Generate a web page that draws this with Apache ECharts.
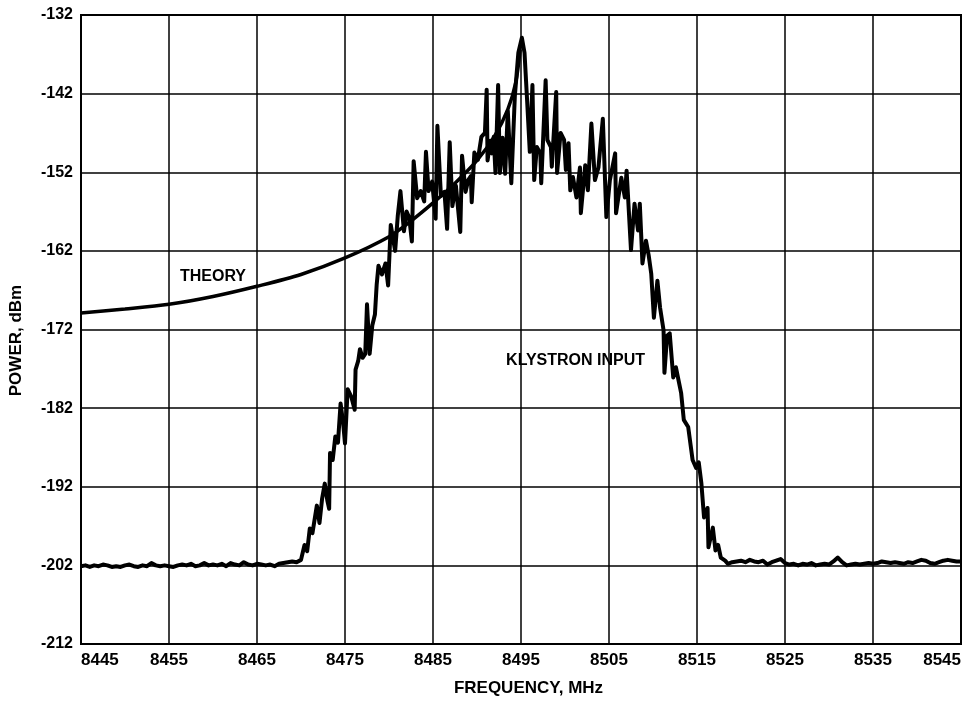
<!DOCTYPE html>
<html>
<head>
<meta charset="utf-8">
<script src="https://cdn.jsdelivr.net/npm/echarts/dist/echarts.min.js"></script>
<style>html,body{margin:0;padding:0;background:#fff;}#chart{width:971px;height:702px;}</style>
</head>
<body>
<div id="chart"></div>
<script>
// ---- axis settings (values) ----
const xTicks = [8445, 8455, 8465, 8475, 8485, 8495, 8505, 8515, 8525, 8535, 8545];
const yTicks = [-212, -202, -192, -182, -172, -162, -152, -142, -132];

// ---- THEORY curve [MHz, dBm] ----
const theoryCurve = [
  [8445,-169.9],[8450,-169.4],[8455,-168.8],[8460,-167.8],[8465,-166.5],
  [8470,-165.0],[8475,-162.9],[8480,-160.2],[8482.5,-158.2],
  [8485,-155.9],[8487.5,-153.4],[8490,-150.5],[8492,-147.4],[8493.5,-144.0],[8494.4,-140.6],
  [8494.9,-136.4]
];

// ---- KLYSTRON INPUT spectrum [MHz, dBm] ----
const klystronLeftFloor = [
  [8445,-202.1],[8445.5,-202.0],[8446,-202.2],[8446.5,-202.0],[8447,-202.1],[8447.5,-201.9],[8448,-202.0],[8448.5,-202.2],[8449,-202.1],[8449.5,-202.2],
  [8450,-202.0],[8450.5,-201.9],[8451,-202.1],[8451.5,-202.2],[8452,-202.0],[8452.5,-202.1],[8453,-201.7],[8453.5,-202.0],[8454,-202.1],[8454.5,-202.0],
  [8455,-202.1],[8455.5,-202.2],[8456,-202.0],[8456.5,-201.9],[8457,-202.0],[8457.5,-201.8],[8458,-202.1],[8458.5,-202.0],[8459,-201.7],[8459.5,-202.0],
  [8460,-201.9],[8460.5,-202.0],[8461,-201.8],[8461.5,-202.1],[8462,-201.7],[8462.5,-201.9],[8463,-202.0],[8463.5,-201.6],[8464,-201.9],[8464.5,-202.0],
  [8465,-201.8],[8465.5,-201.9],[8466,-202.0],[8466.5,-201.9],[8467,-202.1],[8467.5,-201.8],[8468,-201.7],[8468.5,-201.6],[8469,-201.5],[8469.5,-201.6]
];
const klystronRise = [
  [8470.0,-201.3],[8470.4,-199.4],[8470.7,-200.2],[8471.0,-197.3],[8471.3,-197.9],[8471.8,-194.4],[8472.1,-196.6],[8472.4,-193.5],
  [8472.7,-191.6],[8473.0,-193.8],[8473.2,-194.8],[8473.3,-187.7],[8473.6,-188.6],[8473.9,-185.6],[8474.2,-186.4],[8474.5,-181.4],
  [8474.8,-184.0],[8475.0,-186.5],[8475.3,-179.6],[8475.7,-180.5],[8476.1,-182.2],[8476.2,-177.1],[8476.5,-176.0],[8476.7,-174.5],
  [8477.0,-175.6],[8477.3,-175.1],[8477.5,-168.8],[8477.8,-175.1],[8478.1,-171.5],[8478.4,-170.1],[8478.6,-166.3],[8478.8,-163.9],
  [8479.2,-165.0],[8479.6,-163.6],[8479.9,-166.4],[8480.2,-158.7],[8480.7,-162.0],[8481.0,-157.5],[8481.3,-154.4],[8481.7,-159.5],
  [8482.0,-157.0],[8482.3,-157.8],[8482.6,-160.8],[8482.8,-150.6],[8483.2,-155.3],[8483.6,-154.4],[8484.0,-155.7],[8484.2,-149.4],
  [8484.5,-154.4],[8484.9,-153.2],[8485.3,-157.9],[8485.5,-146.1],[8485.9,-155.0],[8486.3,-154.5],[8486.6,-159.2],[8486.9,-148.2],
  [8487.2,-156.3],[8487.6,-153.7],[8488.1,-159.6],[8488.3,-149.9],[8488.7,-154.5],[8489.0,-153.0],[8489.3,-152.5],[8489.4,-155.8],
  [8489.7,-149.5],[8490.1,-150.4],[8490.5,-147.5],[8490.9,-147.0],[8491.1,-141.5],[8491.2,-150.5],[8491.5,-148.0],[8491.7,-149.6],
  [8491.9,-147.5],[8492.1,-152.1],[8492.4,-140.9],[8492.6,-152.1],[8492.9,-147.6],[8493.2,-152.2],[8493.5,-144.2],[8493.9,-153.4],
  [8494.3,-142.3],[8494.7,-136.8],[8495.1,-134.9]
];
const klystronFall = [
  [8495.4,-136.8],[8495.7,-143.0],[8496.0,-149.4],[8496.3,-140.9],[8496.5,-153.0],[8496.8,-148.8],[8497.2,-149.6],[8497.3,-153.4],
  [8497.8,-140.3],[8498.0,-147.9],[8498.4,-148.8],[8498.5,-151.3],[8499.0,-141.8],[8499.1,-152.1],[8499.5,-147.0],[8499.9,-147.9],
  [8500.1,-151.7],[8500.4,-148.3],[8500.6,-154.3],[8500.9,-152.6],[8501.3,-155.2],[8501.7,-151.4],[8501.8,-157.2],[8502.3,-151.1],
  [8502.6,-154.3],[8503.0,-145.8],[8503.4,-153.0],[8503.8,-151.4],[8504.3,-145.2],[8504.7,-157.7],[8505.1,-153.0],[8505.7,-149.6],
  [8505.8,-157.2],[8506.4,-152.7],[8506.8,-155.2],[8507.0,-151.8],[8507.5,-161.9],[8507.9,-156.0],[8508.3,-159.4],[8508.5,-156.0],
  [8508.8,-163.6],[8509.2,-160.7],[8509.5,-162.5],[8509.8,-164.9],[8510.1,-170.5],[8510.5,-165.8],[8510.8,-169.2],[8511.2,-172.1],
  [8511.3,-177.5],[8511.6,-172.8],[8511.9,-172.5],[8512.3,-178.1],[8512.6,-176.8],[8513.2,-180.1],[8513.5,-183.5],[8514.0,-184.4],
  [8514.5,-188.6],[8514.9,-189.6],[8515.2,-188.9],[8515.5,-191.6],[8515.8,-195.9],[8516.2,-194.7],[8516.3,-199.7],[8516.8,-197.2],
  [8517.1,-200.1],[8517.4,-199.4],[8517.7,-201.0],[8518.2,-201.4],[8518.5,-201.8]
];
const klystronRightFloor = [
  [8519,-201.6],[8519.5,-201.5],[8520,-201.4],[8520.5,-201.6],[8521,-201.3],[8521.5,-201.5],[8522,-201.6],[8522.5,-201.4],[8523,-201.9],[8523.5,-201.6],
  [8524,-201.4],[8524.5,-201.2],[8525,-201.7],[8525.5,-201.9],[8526,-201.8],[8526.5,-202.0],[8527,-201.8],[8527.5,-201.9],[8528,-201.7],[8528.5,-202.0],
  [8529,-201.9],[8529.5,-201.8],[8530,-201.9],[8530.5,-201.5],[8531,-201.0],[8531.5,-201.6],[8532,-202.0],[8532.5,-201.9],[8533,-201.8],[8533.5,-201.9],
  [8534,-201.8],[8534.5,-201.7],[8535,-201.8],[8535.5,-201.7],[8536,-201.5],[8536.5,-201.6],[8537,-201.7],[8537.5,-201.6],[8538,-201.7],[8538.5,-201.8],
  [8539,-201.6],[8539.5,-201.7],[8540,-201.5],[8540.5,-201.3],[8541,-201.4],[8541.5,-201.7],[8542,-201.8],[8542.5,-201.6],[8543,-201.4],[8543.5,-201.3],
  [8544,-201.4],[8544.5,-201.5],[8545,-201.5]
];

// ---- annotation labels ----
const theoryLabel = { text: 'THEORY', at: [8460, -165.25] };
const klystronLabel = { text: 'KLYSTRON INPUT', at: [8501.2, -175.95] };

const FONT = "'Liberation Sans', Arial, Helvetica, sans-serif";
const klystronData = klystronLeftFloor.concat(klystronRise, klystronFall, klystronRightFloor);

const chart = echarts.init(document.getElementById('chart'), null, { renderer: 'canvas' });

function annot(lbl) {
  return {
    symbol: 'circle', symbolSize: 1, silent: true,
    itemStyle: { color: 'rgba(0,0,0,0)' },
    label: { show: true, position: 'inside', color: '#000', fontFamily: FONT, fontSize: 16, fontWeight: 'bold' },
    data: [{ coord: lbl.at, value: lbl.text, label: { formatter: lbl.text } }]
  };
}

chart.setOption({
  backgroundColor: '#ffffff',
  animation: false,
  grid: { left: 80, right: 10, top: 15, bottom: 56, show: true, borderColor: '#000', borderWidth: 2, containLabel: false },
  xAxis: {
    type: 'value', min: xTicks[0], max: xTicks[xTicks.length - 1], interval: 10,
    name: 'FREQUENCY, MHz', nameLocation: 'middle', nameGap: 36,
    nameTextStyle: { color: '#000', fontFamily: FONT, fontSize: 17, fontWeight: 'bold', padding: [0, 0, 0, 15] },
    axisLine: { show: true, lineStyle: { color: '#000', width: 2 } },
    axisTick: { show: false },
    axisLabel: { color: '#000', fontFamily: FONT, fontSize: 17, fontWeight: 'bold', margin: 8,
      formatter: function (v) { return String(v); },
      alignMinLabel: 'left', alignMaxLabel: 'right', showMinLabel: true, showMaxLabel: true },
    splitLine: { show: true, lineStyle: { color: '#000', width: 1.5 } }
  },
  yAxis: {
    type: 'value', min: yTicks[0], max: yTicks[yTicks.length - 1], interval: 10,
    name: 'POWER, dBm', nameLocation: 'middle', nameGap: 56,
    nameTextStyle: { color: '#000', fontFamily: FONT, fontSize: 17, fontWeight: 'bold', padding: [0, 22, 0, 0] },
    axisLine: { show: true, lineStyle: { color: '#000', width: 2 } },
    axisTick: { show: false },
    axisLabel: { color: '#000', fontFamily: FONT, fontSize: 16, fontWeight: 'bold', margin: 8,
      formatter: function (v) { return String(v); } },
    splitLine: { show: true, lineStyle: { color: '#000', width: 1.5 } }
  },
  series: [
    {
      name: 'THEORY', type: 'line', data: theoryCurve, smooth: 0.3, showSymbol: false,
      lineStyle: { color: '#000', width: 3.5 }, z: 3,
      markPoint: annot(theoryLabel)
    },
    {
      name: 'KLYSTRON INPUT', type: 'line', data: klystronData, smooth: false, showSymbol: false,
      lineStyle: { color: '#000', width: 4, join: 'round' }, z: 4,
      markPoint: annot(klystronLabel)
    }
  ]
});
</script>
</body>
</html>
